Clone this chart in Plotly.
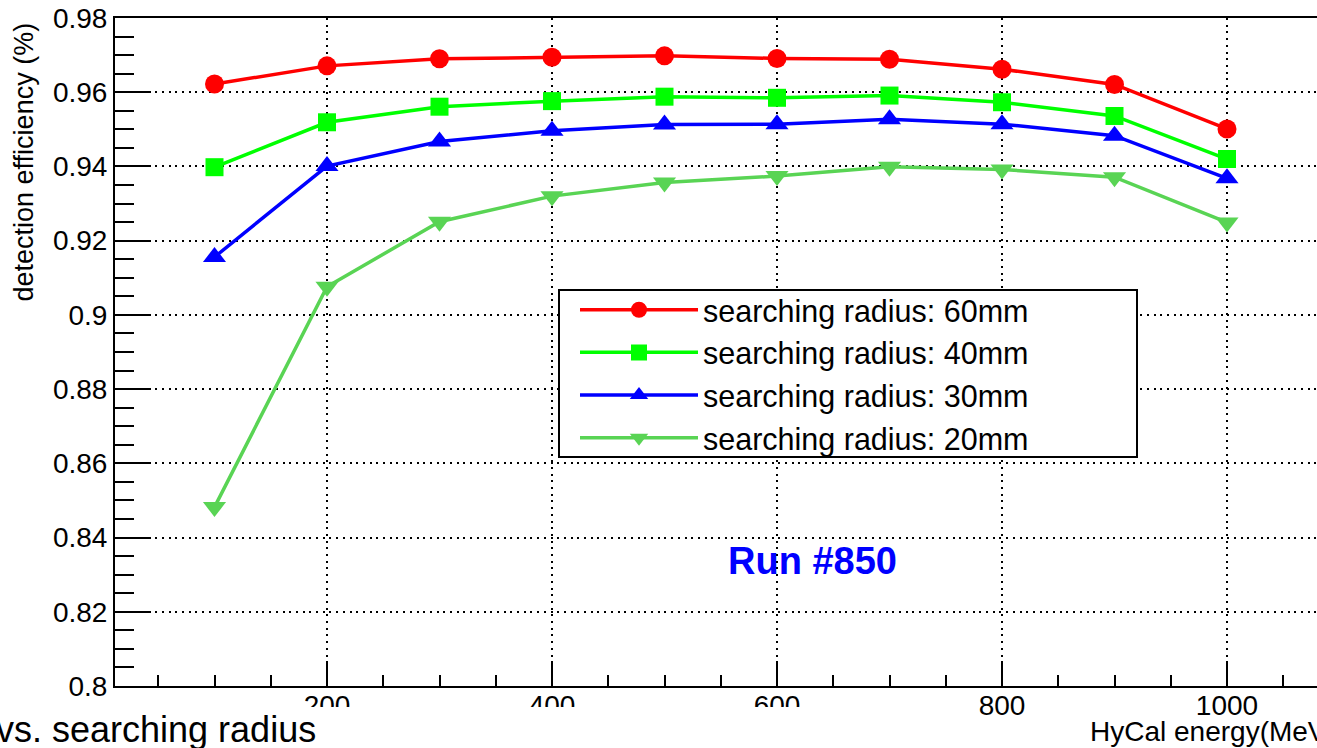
import plotly.graph_objects as go

energy = [100, 200, 300, 400, 500, 600, 700, 800, 900, 1000]
eff_60mm = [0.9622, 0.9671, 0.9690, 0.9694, 0.9698, 0.9691, 0.9689, 0.9662, 0.9621, 0.9501]
eff_40mm = [0.9398, 0.9519, 0.9561, 0.9576, 0.9588, 0.9585, 0.9591, 0.9573, 0.9536, 0.9420]
eff_30mm = [0.9156, 0.9401, 0.9467, 0.9496, 0.9513, 0.9514, 0.9527, 0.9514, 0.9483, 0.9368]
eff_20mm = [0.8482, 0.9076, 0.9251, 0.9320, 0.9357, 0.9374, 0.9399, 0.9392, 0.9371, 0.9249]

series_names = ["searching radius: 60mm", "searching radius: 40mm",
                "searching radius: 30mm", "searching radius: 20mm"]
series_values = [eff_60mm, eff_40mm, eff_30mm, eff_20mm]
series_colors = ["#ff0000", "#00ff00", "#0000ff", "#59d454"]
series_symbols = ["circle", "square", "triangle-up", "triangle-down"]
series_sizes = [19, 18, 20, 20]

x_tickvals = [200, 400, 600, 800, 1000]
y_tickvals = [0.8, 0.82, 0.84, 0.86, 0.88, 0.9, 0.92, 0.94, 0.96, 0.98]
y_ticktext = ["0.8", "0.82", "0.84", "0.86", "0.88", "0.9", "0.92", "0.94", "0.96", "0.98"]

FONT = "Liberation Sans, Arial, Helvetica, sans-serif"

# plot-area geometry (pixels)
L, R, T, B = 115, 1317, 18, 686
W, H = R - L, B - T


def px(x):
    return (x - L) / W


def py(y):
    return (B - y) / H


fig = go.Figure()
for i, (name, vals, col, sym, sz) in enumerate(zip(series_names, series_values, series_colors,
                                                    series_symbols, series_sizes)):
    fig.add_trace(go.Scatter(
        x=energy, y=vals, name=name, mode="lines+markers",
        line=dict(color=col, width=3.5),
        marker=dict(color=col, symbol=sym, size=sz, line=dict(width=0)),
    ))

grid_dash = "2px,4.7px"

fig.update_layout(
    width=1317, height=748,
    margin=dict(l=L, r=1317 - R, t=T, b=748 - B, autoexpand=False),
    paper_bgcolor="white", plot_bgcolor="white",
    font=dict(family=FONT, color="black", size=28),
    showlegend=True,
    legend=dict(
        x=px(575), y=py(283.4), xanchor="left", yanchor="top",
        bgcolor="rgba(0,0,0,0)", borderwidth=0,
        font=dict(family=FONT, size=30.5, color="black"),
        itemwidth=118, traceorder="normal",
    ),
    xaxis=dict(
        range=[11.56, 1080], automargin=False,
        tickmode="array", tickvals=x_tickvals,
        ticks="inside", ticklen=23, tickwidth=2, tickcolor="black",
        ticklabelstandoff=-7,
        showline=True, linewidth=2, linecolor="black", mirror=True,
        showgrid=True, gridcolor="black", gridwidth=2, griddash=grid_dash,
        zeroline=False,
        tickfont=dict(family=FONT, size=28, color="black"),
        minor=dict(dtick=50, tick0=0, ticks="inside", ticklen=11, tickwidth=2,
                   tickcolor="black", showgrid=False),
    ),
    yaxis=dict(
        range=[0.8, 0.98], automargin=False,
        tickmode="array", tickvals=y_tickvals, ticktext=y_ticktext,
        ticks="inside", ticklen=35, tickwidth=2, tickcolor="black",
        showline=True, linewidth=2, linecolor="black", mirror=False,
        showgrid=True, gridcolor="black", gridwidth=2, griddash=grid_dash,
        zeroline=False,
        tickfont=dict(family=FONT, size=28, color="black"),
        minor=dict(dtick=0.005, tick0=0.8, ticks="inside", ticklen=19, tickwidth=2,
                   tickcolor="black", showgrid=False),
    ),
)

# legend frame (white box with black border)
fig.add_shape(type="rect", xref="paper", yref="paper",
              x0=px(559), x1=px(1137), y0=py(457), y1=py(290),
              fillcolor="white", line=dict(color="black", width=2), layer="above")

# white title pave at the bottom-left that hides part of the x labels
fig.add_shape(type="rect", xref="paper", yref="paper",
              x0=px(-20), x1=px(900), y0=py(770), y1=py(707),
              fillcolor="white", line=dict(width=0), layer="above")

fig.add_annotation(text="vs. searching radius", xref="paper", yref="paper",
                   x=px(318), y=py(729), xanchor="right", yanchor="middle",
                   showarrow=False, font=dict(family=FONT, size=36, color="black"))

fig.add_annotation(text="HyCal energy(MeV)", xref="paper", yref="paper",
                   x=px(1088), y=py(731), xanchor="left", yanchor="middle",
                   showarrow=False, font=dict(family=FONT, size=28, color="black"))

fig.add_annotation(text="detection efficiency (%)", xref="paper", yref="paper",
                   x=px(24), y=py(21), xanchor="center", yanchor="top",
                   textangle=-90, showarrow=False,
                   font=dict(family=FONT, size=27, color="black"))

fig.add_annotation(text="<b>Run #850</b>", xref="paper", yref="paper",
                   x=px(812), y=py(561), xanchor="center", yanchor="middle",
                   showarrow=False, font=dict(family=FONT, size=38, color="#0000ff"))

fig.write_html(
    "out.html",
    config={"displayModeBar": False},
    post_script="document.body.style.margin='0';document.body.style.overflow='hidden';",
)
